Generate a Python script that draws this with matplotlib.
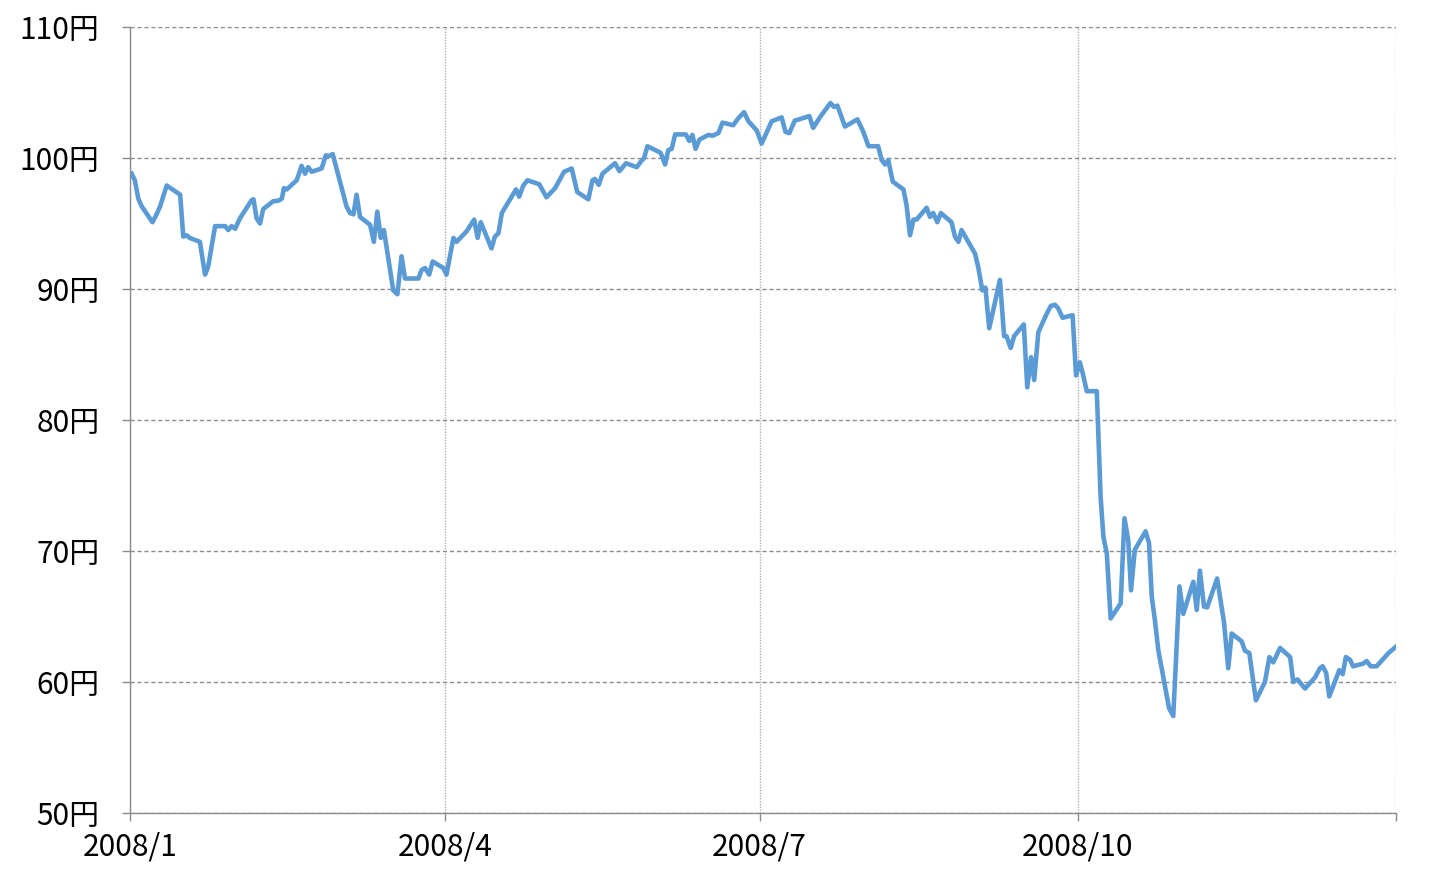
import numpy as np
import pandas as pd
import matplotlib
matplotlib.use("Agg")
import matplotlib.pyplot as plt

plt.rcParams['font.family'] = ['Noto Sans CJK JP', 'DejaVu Sans']

# days after 2008-01-01, and the rate in yen
days = [0.5, 1.4, 2.4, 3.4, 6.5, 7.5, 8.7, 10.6, 14.5, 15.4, 16.4, 17.3, 20.2, 21.7, 22.6,
        24.6, 27.5, 28.4, 29.4, 30.4, 31.8, 35.2, 35.7, 36.6, 37.6, 38.5, 41.4, 42.9, 43.9,
        44.5, 45.3, 48.2, 49.6, 50.6, 51.5, 52.5, 55.4, 56.6, 57.6, 58.6, 62.6, 63.6, 64.6,
        65.5, 66.5, 69.4, 70.5, 71.5, 72.5, 73.4, 76.1, 77.3, 78.5, 79.5, 83.4, 84.3, 85.3,
        86.5, 87.5, 90.6, 91.5, 93.5, 94.4, 97.3, 99.5, 100.5, 101.4, 104.5, 105.5, 106.5,
        107.5, 108.4, 111.6, 112.5, 113.7, 114.9, 118.3, 120.4, 122.9, 125.5, 127.7, 129.3,
        132.5, 133.7, 134.4, 135.5, 136.6, 140.2, 141.5, 143.4, 146.5, 147.9, 148.6, 149.6,
        153.4, 154.7, 155.6, 156.6, 157.6, 160.7, 161.7, 162.6, 163.5, 164.6, 167.2, 168.4,
        170.1, 171.3, 174.4, 175.6, 177.5, 178.8, 181.2, 182.6, 185.5, 188.4, 189.5, 190.6,
        192.2, 196.4, 197.5, 199.7, 202.5, 203.5, 204.5, 206.7, 210.3, 212.0, 213.5, 216.3,
        217.3, 218.3, 219.2, 220.5, 223.6, 224.5, 225.5, 226.5, 227.4, 230.3, 231.3, 232.2,
        233.4, 234.4, 237.5, 238.5, 239.5, 240.4, 244.3, 245.2, 246.4, 247.3, 248.4, 251.5,
        252.7, 253.4, 254.6, 255.6, 258.4, 259.4, 260.5, 261.4, 262.6, 265.0, 266.2, 267.4,
        268.4, 269.6, 272.5, 273.5, 274.6, 275.4, 276.6, 279.5, 280.6, 281.4, 282.4, 283.5,
        286.4, 287.5, 288.6, 289.4, 290.5, 293.6, 294.6, 295.4, 296.3, 297.3, 298.7, 300.4,
        301.6, 302.4, 303.4, 304.5, 307.4, 308.4, 309.3, 310.5, 311.4, 314.3, 316.3, 317.5,
        318.5, 321.4, 322.3, 323.6, 325.5, 328.1, 329.4, 330.5, 332.5, 335.4, 336.3, 337.5,
        339.7, 342.6, 344.0, 344.8, 345.8, 346.7, 349.6, 350.6, 351.5, 352.7, 353.6, 356.5,
        357.5, 358.7, 360.4, 363.8, 366.0]
rate = [98.8, 98.3, 96.9, 96.3, 95.1, 95.6, 96.3, 97.9, 97.2, 94.0, 94.1, 93.9, 93.6, 91.1, 91.7,
        94.8, 94.8, 94.5, 94.8, 94.6, 95.4, 96.8, 96.85, 95.4, 95.0, 96.1, 96.7, 96.74, 96.9,
        97.7, 97.6, 98.3, 99.4, 98.8, 99.3, 98.95, 99.2, 100.2, 100.15, 100.3, 96.3, 95.8, 95.7,
        97.2, 95.5, 94.9, 93.6, 95.9, 93.9, 94.5, 89.9, 89.6, 92.5, 90.8, 90.8, 91.45, 91.6,
        91.1, 92.1, 91.6, 91.1, 93.9, 93.6, 94.4, 95.3, 93.9, 95.1, 93.1, 94.0, 94.25,
        95.8, 96.2, 97.6, 97.05, 97.9, 98.3, 98.0, 97.0, 97.7, 98.95, 99.2, 97.4,
        96.85, 98.3, 98.4, 97.95, 98.8, 99.6, 99.0, 99.6, 99.3, 99.8, 99.98, 100.9,
        100.4, 99.5, 100.6, 100.7, 101.8, 101.8, 101.3, 101.76, 100.7, 101.4, 101.76, 101.7,
        101.9, 102.7, 102.5, 102.95, 103.5, 102.8, 102.1, 101.1, 102.8, 103.1, 102.0, 101.9,
        102.85, 103.2, 102.3, 103.2, 104.2, 103.9, 104.0, 102.4, 102.95, 102.0, 100.9, 100.9,
        99.85, 99.5, 99.85, 98.2, 97.6, 96.4, 94.1, 95.3, 95.3, 96.2, 95.5, 95.8,
        95.1, 95.8, 95.1, 94.0, 93.6, 94.5, 92.7, 91.7, 89.9, 90.1, 87.0, 90.7,
        86.4, 86.4, 85.5, 86.4, 87.3, 82.5, 84.8, 83.05, 86.7, 88.1, 88.7, 88.8,
        88.5, 87.8, 88.0, 83.4, 84.4, 83.6, 82.2, 82.2, 74.15, 71.1, 69.8, 64.85,
        66.0, 72.5, 70.8, 67.0, 70.1, 71.5, 70.6, 66.5, 64.7, 62.4, 60.4, 58.0,
        57.4, 61.7, 67.3, 65.2, 67.65, 65.5, 68.5, 65.75, 65.7, 67.9, 64.5, 61.05,
        63.7, 63.1, 62.4, 62.2, 58.6, 60.0, 61.9, 61.5, 62.6, 61.9, 60.0, 60.2,
        59.5, 60.35, 61.05, 61.2, 60.7, 58.9, 60.9, 60.6, 61.9, 61.7, 61.2, 61.4,
        61.6, 61.2, 61.2, 62.2, 62.7]

y_ticks = [50, 60, 70, 80, 90, 100, 110]
x_ticks = ["2008-01-01", "2008-04-01", "2008-07-01", "2008-10-01", "2009-01-01"]
x_labels = ["2008/1", "2008/4", "2008/7", "2008/10", ""]

start = pd.Timestamp("2008-01-01")
dates = start + pd.to_timedelta(np.array(days), unit="D")

fig = plt.figure(figsize=(14.56, 8.96), dpi=100)
ax = fig.add_axes([130 / 1456, 1 - 813 / 896, 1266 / 1456, 786 / 896])

ax.plot(dates, rate, color="#5B9BD5", linewidth=3.3, solid_joinstyle="round")

ax.set_ylim(50, 110)
ax.set_yticks(y_ticks)
ax.set_yticklabels([f"{v}円" for v in y_ticks])
ax.set_xlim(pd.Timestamp("2008-01-01"), pd.Timestamp("2009-01-01"))
ax.set_xticks(pd.to_datetime(x_ticks))
ax.set_xticklabels(x_labels)

# grid: dashed horizontals, dotted verticals
ax.grid(axis="y", color="#8c8c8c", linestyle=(0, (3, 2)), linewidth=1.0)
ax.grid(axis="x", color="#b0b0b0", linestyle=(0, (1, 1)), linewidth=1.0)
ax.set_axisbelow(True)

for side in ["top", "right"]:
    ax.spines[side].set_visible(False)
for side in ["left", "bottom"]:
    ax.spines[side].set_color("#8c8c8c")
    ax.spines[side].set_linewidth(1.0)

ax.tick_params(axis="y", length=6, width=1, color="#8c8c8c", labelsize=21.5, pad=16)
ax.tick_params(axis="x", length=6, width=1, color="#8c8c8c", labelsize=21.5, pad=7)

fig.savefig("out.png", dpi=100)
